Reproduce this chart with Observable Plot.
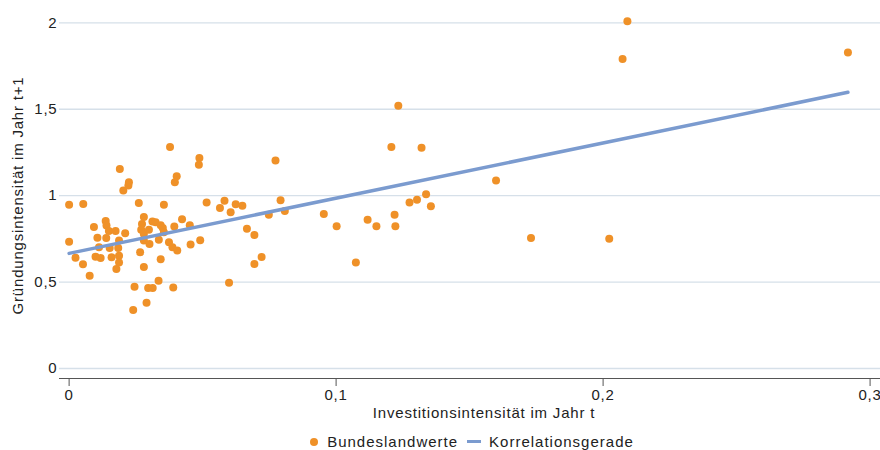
<!DOCTYPE html>
<html>
<head>
<meta charset="utf-8">
<script src="https://cdn.jsdelivr.net/npm/d3@7"></script>
<script src="https://cdn.jsdelivr.net/npm/@observablehq/plot@0.6"></script>
<style>
  html, body { margin: 0; background: #fff; overflow: hidden; font-family: "Liberation Sans", Arial, sans-serif; }
  #chart svg { display: block; }
  .legend { width: 880px; display: flex; justify-content: center; align-items: center; height: 25px; padding-top: 4px; padding-left: 32px; box-sizing: content-box;
            font-size: 15px; letter-spacing: 1px; color: #222; }
  .legend .dot { width: 8px; height: 8px; border-radius: 50%; background: #ef9128; margin-right: 9px; }
  .legend .ln { width: 14px; height: 3.5px; background: #7b9bcf; margin: 0 8px 0 9px; }
</style>
</head>
<body>
<div id="chart"></div>
<div class="legend"><span class="dot"></span><span>Bundeslandwerte</span><span class="ln"></span><span>Korrelationsgerade</span></div>
<script>
// Investitionsintensität im Jahr t (x) and Gründungsintensität im Jahr t+1 (y)
const investIntensity = [
  0.0000, 0.0000, 0.0024, 0.0052, 0.0053, 0.0077, 0.0093, 0.0099, 0.0106, 0.0112,
  0.0118, 0.0137, 0.0140, 0.0139, 0.0149, 0.0152, 0.0159, 0.0174, 0.0177, 0.0184,
  0.0187, 0.0187, 0.0187, 0.0190, 0.0210, 0.0203, 0.0222, 0.0224, 0.0261, 0.0280,
  0.0273, 0.0270, 0.0280, 0.0280, 0.0266, 0.0280, 0.0299, 0.0301, 0.0312, 0.0324,
  0.0343, 0.0351, 0.0355, 0.0336, 0.0343, 0.0355, 0.0374, 0.0387, 0.0405, 0.0394,
  0.0423, 0.0452, 0.0455, 0.0491, 0.0378, 0.0403, 0.0396, 0.0488, 0.0486, 0.0335,
  0.0245, 0.0296, 0.0313, 0.0390, 0.0290, 0.0240, 0.0515, 0.0565, 0.0582, 0.0605,
  0.0624, 0.0649, 0.0666, 0.0694, 0.0721, 0.0694, 0.0599, 0.0773, 0.0792, 0.0748,
  0.0808, 0.0954, 0.1002, 0.1074, 0.1118, 0.1151, 0.1219, 0.1222, 0.1275, 0.1303,
  0.1337, 0.1355, 0.1233, 0.1207, 0.1320, 0.1599, 0.1730, 0.2023, 0.2091, 0.2073,
  0.2917
];
const foundingIntensity = [
  0.948, 0.734, 0.641, 0.603, 0.952, 0.537, 0.818, 0.647, 0.757, 0.702,
  0.639, 0.853, 0.827, 0.755, 0.795, 0.697, 0.643, 0.795, 0.575, 0.697,
  0.740, 0.653, 0.614, 1.155, 0.783, 1.030, 1.059, 1.078, 0.957, 0.877,
  0.836, 0.803, 0.778, 0.740, 0.672, 0.587, 0.803, 0.720, 0.850, 0.846,
  0.829, 0.813, 0.788, 0.745, 0.632, 0.948, 0.730, 0.701, 0.682, 0.821,
  0.864, 0.829, 0.718, 0.742, 1.281, 1.113, 1.078, 1.218, 1.179, 0.508,
  0.473, 0.465, 0.465, 0.469, 0.380, 0.339, 0.960, 0.929, 0.970, 0.904,
  0.950, 0.941, 0.809, 0.773, 0.645, 0.604, 0.496, 1.204, 0.973, 0.890,
  0.912, 0.894, 0.823, 0.614, 0.861, 0.823, 0.890, 0.823, 0.960, 0.977,
  1.008, 0.939, 1.521, 1.281, 1.277, 1.088, 0.755, 0.751, 2.010, 1.791,
  1.828
];
// Korrelationsgerade endpoints
const fitX = [0, 0.2917];
const fitY = [0.666, 1.598];

const xTicks = [0, 0.1, 0.2, 0.3];
const yTicks = [0, 0.5, 1, 1.5, 2];
const xTitle = "Investitionsintensität im Jahr t";
const yTitle = "Gründungsintensität im Jahr t+1";
const fmt = d => String(d).replace(".", ",");

const points = investIntensity.map((x, i) => ({x, y: foundingIntensity[i]}));
const fitLine = fitX.map((x, i) => ({x, y: fitY[i]}));

const chart = Plot.plot({
  width: 880,
  height: 425,
  marginLeft: 59,
  marginRight: 0,
  marginTop: 12,
  marginBottom: 47,
  style: {fontFamily: "'Liberation Sans', Arial, sans-serif", fontSize: "15px", color: "#222", letterSpacing: "0.8px", overflow: "visible"},
  x: {domain: [-0.0036, 0.3039]},
  y: {domain: [-0.058, 2.06]},
  marks: [
    Plot.gridY(yTicks, {stroke: "#d6e0e9", strokeOpacity: 1, strokeWidth: 1.3}),
    Plot.axisY({ticks: yTicks, tickFormat: fmt, tickSize: 0, tickPadding: 2,
      label: yTitle, labelAnchor: "center", labelArrow: "none", labelOffset: 47}),
    Plot.axisX({ticks: xTicks, tickFormat: fmt, tickSize: 8, tickPadding: 3, stroke: "#555", label: null}),
    Plot.text([xTitle], {text: d => d, frameAnchor: "bottom", dx: 14, dy: 35, lineAnchor: "middle", fontSize: 15, fill: "#222"}),
    Plot.frame({anchor: "bottom", stroke: "#555"}),
    Plot.dot(points, {x: "x", y: "y", r: 4, fill: "#ef9128", stroke: "none"}),
    Plot.line(fitLine, {x: "x", y: "y", stroke: "#7b9bcf", strokeWidth: 3.5})
  ]
});
document.getElementById("chart").appendChild(chart);
</script>
</body>
</html>
